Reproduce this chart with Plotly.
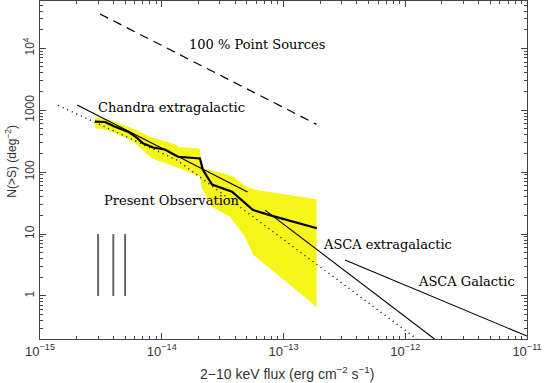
import numpy as np
import plotly.graph_objects as go

# --- data (flux in erg cm^-2 s^-1, N(>S) in deg^-2) ---
obs_flux = [2.83e-15, 3.42e-15, 4.13e-15, 5.28e-15, 6.14e-15, 7.01e-15, 8.48e-15, 1.06e-14,
            1.36e-14, 2.06e-14, 2.18e-14, 2.59e-14, 3.78e-14, 5.62e-14, 8.21e-14, 1.88e-13]
obs_n = [652, 645, 541, 450, 369, 292, 250, 232, 177, 166, 108, 63, 48.2, 24.4, 19.5, 12.4]

band_up_flux = [2.83e-15, 3.76e-15, 4.83e-15, 6.22e-15, 8.0e-15, 9.67e-15, 1.33e-14, 1.37e-14,
                2.0e-14, 2.06e-14, 2.13e-14, 3.2e-14, 3.87e-14, 4.99e-14, 6.02e-14, 1.87e-13]
band_up_n = [767, 695, 577, 479, 373, 330, 274, 252, 242, 233, 116, 95.7, 84.4, 58.1, 51.4, 36.4]
band_lo_flux = [2.83e-15, 3.53e-15, 4.83e-15, 5.83e-15, 8.26e-15, 9.1e-15, 1.41e-14, 2.06e-14,
                2.13e-14, 2.57e-14, 3.63e-14, 4.83e-14, 5.65e-14, 1.87e-13]
band_lo_n = [511, 479, 373, 310, 167, 157, 115, 84.4, 55.3, 27.6, 19.1, 9.04, 4.58, 0.668]

point_src_flux = [3.11e-15, 1.87e-13]
point_src_n = [35800, 591]
chandra_flux = [2.02e-15, 5.07e-14]
chandra_n = [1213, 47.6]
asca_xgal_flux = [7.05e-14, 1.75e-12]
asca_xgal_n = [24.4, 0.2]
asca_gal_flux = [3.2e-13, 1.0e-11]
asca_gal_n = [3.8, 0.225]
model_flux = [1.41e-15, 1.33e-14, 2.0e-14, 1.25e-12]
model_n = [1200, 157, 87, 0.2]
limit_flux = [3.0e-15, 4.0e-15, 5.0e-15]
limit_n = [1, 10]

x_ticks = [1e-15, 1e-14, 1e-13, 1e-12, 1e-11]
x_ticktext = ["10<sup>\u221215</sup>", "10<sup>\u221214</sup>", "10<sup>\u221213</sup>",
              "10<sup>\u221212</sup>", "10<sup>\u221211</sup>"]
y_ticks = [1, 10, 100, 1000, 1e4]
y_ticktext = ["1", "10", "100", "1000", "10<sup>4</sup>"]
x_minor = [k * 10.0 ** e for e in range(-15, -11) for k in range(2, 10)]
y_minor = [k * 10.0 ** e for e in range(-1, 5) for k in range(2, 10)]

AX = "#444444"
SERIF = "DejaVu Serif, Liberation Serif, serif"
SANS = "Liberation Sans, Arial, sans-serif"

fig = go.Figure()

# yellow uncertainty band
fig.add_trace(go.Scatter(
    x=band_up_flux + band_lo_flux[::-1], y=band_up_n + band_lo_n[::-1],
    mode="lines", fill="toself", fillcolor="#f5f51a", line=dict(width=0),
    hoverinfo="skip"))

fig.add_trace(go.Scatter(x=point_src_flux, y=point_src_n, mode="lines",
                         line=dict(color="black", width=1.2, dash="9px,6px")))
fig.add_trace(go.Scatter(x=model_flux, y=model_n, mode="lines",
                         line=dict(color="black", width=1.4, dash="1px,4px")))
fig.add_trace(go.Scatter(x=chandra_flux, y=chandra_n, mode="lines",
                         line=dict(color="black", width=1.1)))
fig.add_trace(go.Scatter(x=asca_xgal_flux, y=asca_xgal_n, mode="lines",
                         line=dict(color="black", width=1.1)))
fig.add_trace(go.Scatter(x=asca_gal_flux, y=asca_gal_n, mode="lines",
                         line=dict(color="black", width=1.1)))
fig.add_trace(go.Scatter(x=obs_flux, y=obs_n, mode="lines",
                         line=dict(color="black", width=2.2)))
for f in limit_flux:
    fig.add_trace(go.Scatter(x=[f, f], y=limit_n, mode="lines",
                             line=dict(color="#666666", width=2)))

labels = [
    ("100 % Point Sources", 6.1e-14, 11700, "center"),
    ("Chandra extragalactic", 2.88e-15, 1100, "left"),
    ("Present Observation", 3.25e-15, 34.5, "left"),
    ("ASCA extragalactic", 2.03e-13, 6.8, "left"),
    ("ASCA Galactic", 1.22e-12, 1.74, "left"),
]
for txt, fx, ny, anchor in labels:
    fig.add_annotation(x=np.log10(fx), y=np.log10(ny), text=txt, showarrow=False,
                       xanchor=anchor, yanchor="middle",
                       font=dict(family=SERIF, size=13, color="black"))

fig.add_annotation(xref="paper", yref="paper", x=0.507, y=-0.1, yanchor="middle",
                   text="2\u221210 keV flux (erg cm<sup>\u22122</sup> s<sup>\u22121</sup>)",
                   showarrow=False, font=dict(family=SANS, size=14, color="#333333"))
fig.add_annotation(xref="paper", yref="paper", x=-0.06, y=0.527, xanchor="center",
                   text="N(>S) (deg<sup>\u22122</sup>)", textangle=-90,
                   showarrow=False, font=dict(family=SANS, size=12, color="#333333"))

axis_common = dict(showline=True, linecolor=AX, linewidth=1, mirror="allticks",
                   ticks="inside", ticklen=6, tickcolor=AX, showgrid=False, zeroline=False,
                   automargin=False)

fig.update_xaxes(type="log", range=[-15, -11], tickvals=x_ticks, ticktext=x_ticktext,
                 tickfont=dict(family=SANS, size=13, color="#333333"),
                 minor=dict(ticks="inside", ticklen=3, tickcolor=AX, tickvals=x_minor,
                            showgrid=False),
                 **axis_common)
fig.update_yaxes(type="log", range=[-0.695, 4.764], tickvals=y_ticks, ticktext=y_ticktext,
                 tickangle=-90, tickfont=dict(family=SANS, size=12, color="#333333"),
                 minor=dict(ticks="inside", ticklen=3, tickcolor=AX, tickvals=y_minor,
                            showgrid=False),
                 **axis_common)

fig.update_layout(width=545, height=383, showlegend=False,
                  margin=dict(l=40, r=18, t=1, b=44),
                  paper_bgcolor="white", plot_bgcolor="white")

# the browser's default 8px body margin would shift the whole chart
fig.write_html("out.html", config={"displayModeBar": False},
               post_script="document.body.style.margin='0';")
